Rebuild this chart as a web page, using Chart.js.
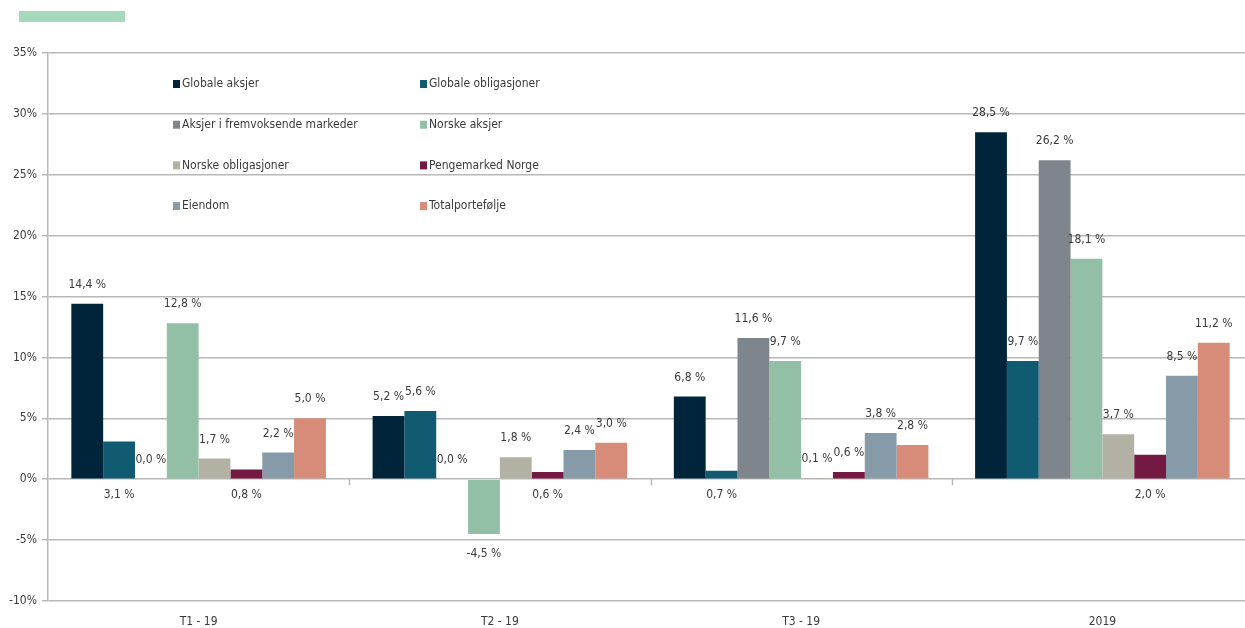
<!DOCTYPE html>
<html>
<head>
<meta charset="utf-8">
<script src="https://cdn.jsdelivr.net/npm/chart.js@4"></script>
<style>
  html, body { margin: 0; padding: 0; background: #fff; overflow: hidden; }
  #wrap { position: relative; width: 1254px; height: 628px; }
  #topbar { position: absolute; left: 19px; top: 11px; width: 106px; height: 11px; background: #a6d8bc; }
</style>
</head>
<body>
<div id="wrap">
  <canvas id="returnsChart"></canvas>
  <div id="topbar"></div>
</div>
<script>
// periods and returns (%)
const periods = ['T1 - 19', 'T2 - 19', 'T3 - 19', '2019'];

const globaleAksjer = [14.4, 5.2, 6.8, 28.5];
const globaleObligasjoner = [3.1, 5.6, 0.7, 9.7];
const fremvoksendeMarkeder = [0.0, 0.0, 11.6, 26.2];
const norskeAksjer = [12.8, -4.5, 9.7, 18.1];
const norskeObligasjoner = [1.7, 1.8, 0.1, 3.7];
const pengemarkedNorge = [0.8, 0.6, 0.6, 2.0];
const eiendom = [2.2, 2.4, 3.8, 8.5];
const totalportefolje = [5.0, 3.0, 2.8, 11.2];

const yTicks = [-10, -5, 0, 5, 10, 15, 20, 25, 30, 35];

const FONT = '"DejaVu Sans Condensed", "DejaVu Sans", sans-serif';
const TEXT = '#3a3a3a';

// labels that Excel put under the zero line: [dataset, period]
const belowAxis = [[1, 0], [5, 0], [5, 1], [1, 2], [5, 3]];

function fmt(v) {
    return v.toFixed(1).replace('.', ',') + ' %';
}

const barLabels = {
    id: 'barLabels',
    afterDatasetsDraw(chart) {
        const ctx = chart.ctx;
        const y0 = chart.scales.y.getPixelForValue(0);
        ctx.save();
        ctx.font = '12px ' + FONT;
        ctx.fillStyle = TEXT;
        ctx.textAlign = 'center';
        ctx.textBaseline = 'middle';
        chart.data.datasets.forEach((ds, di) => {
            const meta = chart.getDatasetMeta(di);
            meta.data.forEach((bar, i) => {
                const v = ds.data[i];
                let y;
                if (belowAxis.some(p => p[0] === di && p[1] === i)) {
                    y = y0 + 16;
                } else if (v < 0) {
                    y = bar.y + 20;
                } else {
                    y = bar.y - 19;
                }
                ctx.fillText(fmt(v), bar.x, y);
            });
        });
        ctx.restore();
    }
};

const zeroTicks = {
    id: 'zeroTicks',
    afterDraw(chart) {
        const ctx = chart.ctx;
        const x = chart.scales.x;
        const y0 = chart.scales.y.getPixelForValue(0);
        const w = (x.right - x.left) / periods.length;
        ctx.save();
        ctx.strokeStyle = '#b8b8b8';
        ctx.lineWidth = 1.5;
        for (let k = 1; k < periods.length; k++) {
            const px = Math.round(x.left + w * k) + 0.5;
            ctx.beginPath();
            ctx.moveTo(px, y0);
            ctx.lineTo(px, y0 + 6);
            ctx.stroke();
        }
        ctx.restore();
    }
};

const insideLegend = {
    id: 'insideLegend',
    afterDraw(chart) {
        const ctx = chart.ctx;
        const a = chart.chartArea;
        ctx.save();
        ctx.font = '12px ' + FONT;
        ctx.textBaseline = 'middle';
        ctx.textAlign = 'left';
        chart.data.datasets.forEach((ds, i) => {
            const col = i % 2;
            const row = Math.floor(i / 2);
            const mx = a.left + 125 + col * 247;
            const my = a.top + 31 + row * 40.7;
            ctx.fillStyle = ds.backgroundColor;
            ctx.fillRect(mx, my - 4, 7, 8);
            ctx.fillStyle = TEXT;
            ctx.fillText(ds.label, mx + 9, my);
        });
        ctx.restore();
    }
};

const ctx = document.getElementById('returnsChart').getContext('2d');
const chart = new Chart(ctx, {
    type: 'bar',
    data: {
        labels: periods,
        datasets: [
            { label: 'Globale aksjer', data: globaleAksjer, backgroundColor: '#00243a' },
            { label: 'Globale obligasjoner', data: globaleObligasjoner, backgroundColor: '#115b72' },
            { label: 'Aksjer i fremvoksende markeder', data: fremvoksendeMarkeder, backgroundColor: '#7f858c' },
            { label: 'Norske aksjer', data: norskeAksjer, backgroundColor: '#94bfa7' },
            { label: 'Norske obligasjoner', data: norskeObligasjoner, backgroundColor: '#b3b1a4' },
            { label: 'Pengemarked Norge', data: pengemarkedNorge, backgroundColor: '#741a42' },
            { label: 'Eiendom', data: eiendom, backgroundColor: '#879aa7' },
            { label: 'Totalportefølje', data: totalportefolje, backgroundColor: '#d68c78' }
        ]
    },
    options: {
        responsive: true,
        maintainAspectRatio: false,
        animation: false,
        datasets: {
            bar: {
                barPercentage: 1,
                categoryPercentage: 0.845,
                borderWidth: 0
            }
        },
        layout: {
            padding: { top: 53, right: 1, left: 0, bottom: 0 }
        },
        plugins: {
            legend: { display: false },
            tooltip: { enabled: false }
        },
        scales: {
            x: {
                grid: { display: false, drawTicks: false },
                border: { display: false },
                ticks: {
                    color: TEXT,
                    font: { family: FONT, size: 12 },
                    padding: 14
                },
                afterFit: s => { s.height = 27; }
            },
            y: {
                min: -10,
                max: 35,
                afterBuildTicks: s => { s.ticks = yTicks.map(v => ({ value: v })); },
                grid: {
                    color: '#b8b8b8',
                    lineWidth: 1.5,
                    tickLength: 6
                },
                border: { color: '#b8b8b8', width: 1.5 },
                ticks: {
                    color: TEXT,
                    font: { family: FONT, size: 12 },
                    padding: 5,
                    callback: v => v + '%'
                },
                afterFit: s => { s.width = 48; }
            }
        }
    },
    plugins: [barLabels, zeroTicks, insideLegend]
});
</script>
</body>
</html>
